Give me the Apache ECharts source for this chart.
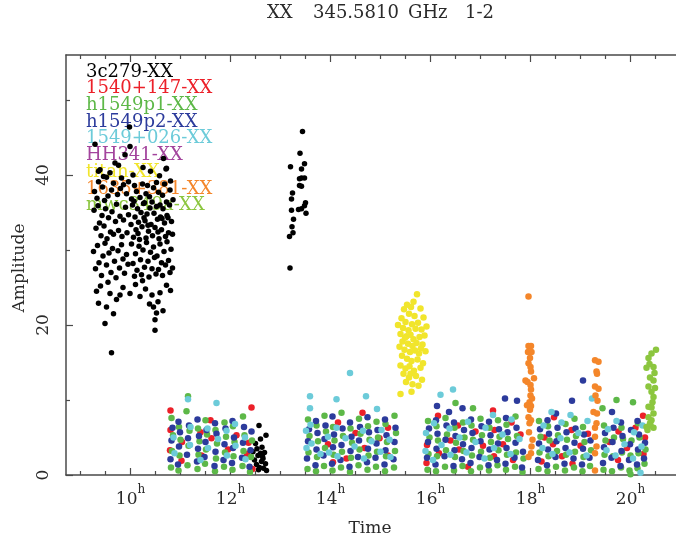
<!DOCTYPE html>
<html>
<head>
<meta charset="utf-8">
<script src="https://cdn.jsdelivr.net/npm/echarts@6/dist/echarts.min.js"></script>
<style>
  html, body { margin: 0; padding: 0; background: #fff; }
  #chart { width: 676px; height: 544px; }
</style>
</head>
<body>
<div id="chart"></div>
<script>
// ---- data: [time (h), amplitude] ----
const src3c279 = [
  // 9.3h - 10.8h block
  [9.29,44.1],[9.98,46.4],[9.99,43.8],[9.89,42.7],[9.69,41.6],[9.76,41.3],[9.39,40.7],[9.59,40.3],[9.52,39.7],[10.66,42.2],
  [10.71,40.8],[10.72,40.9],[9.36,40.5],[9.46,39.8],[10.05,40.0],[10.40,40.5],[10.25,41.0],[9.82,39.6],[10.58,39.9],
  [9.36,39.1],[9.66,38.9],[9.86,38.7],[9.96,39.1],[10.79,38.0],[10.31,37.5],[10.19,37.0],[10.72,36.4],[10.59,36.0],[9.28,37.8],
  [9.44,38.4],[9.55,37.2],[9.62,38.0],[9.74,37.4],[9.92,37.5],[10.08,38.6],[10.12,37.8],[10.24,38.8],[10.38,37.1],[10.46,38.3],
  [10.52,39.0],[10.64,37.3],[10.80,39.2],[10.85,36.7],[9.33,36.9],[9.48,36.6],[9.80,38.2],[10.02,36.8],[10.28,36.3],[10.34,38.6],
  [10.56,37.7],[10.68,38.8],
  [9.27,35.3],[9.31,32.9],[9.35,35.9],[9.38,33.6],[9.41,31.9],[9.43,34.6],[9.47,33.2],[9.50,35.5],[9.53,31.5],[9.56,34.3],
  [9.60,32.4],[9.63,35.1],[9.66,32.1],[9.70,33.8],[9.72,36.1],[9.76,32.6],[9.79,34.5],[9.83,31.8],[9.86,34.0],[9.90,35.7],
  [9.93,32.3],[9.96,34.7],
  [10.01,33.4],[10.04,36.0],[10.06,31.7],[10.09,34.4],[10.11,32.7],[10.14,35.5],[10.16,33.7],[10.18,31.4],[10.21,35.0],[10.23,33.1],
  [10.26,36.2],[10.29,33.9],[10.31,31.6],[10.33,34.8],[10.36,32.5],[10.39,35.6],[10.41,33.4],[10.44,31.9],[10.47,34.9],[10.49,33.0],
  [10.52,35.8],[10.54,34.1],[10.57,31.5],[10.60,34.4],[10.62,32.7],[10.65,35.5],[10.68,33.6],[10.70,31.8],[10.73,34.6],[10.76,32.3],
  [10.78,36.0],[10.82,33.8],[10.84,32.1],[10.07,36.5],[10.27,34.3],[10.43,36.4],[10.63,34.2],[10.15,32.2],[10.35,33.3],[10.55,32.4],
  [10.75,34.3],
  [9.26,29.8],[9.30,27.5],[9.34,30.6],[9.37,28.3],[9.42,26.6],[9.45,29.2],[9.49,30.9],[9.52,28.0],[9.57,29.6],[9.61,27.0],
  [9.64,30.2],[9.68,28.5],[9.71,26.3],[9.75,29.9],[9.78,27.6],[9.82,30.7],[9.85,28.8],[9.88,26.9],[9.92,29.4],[9.95,28.1],
  [10.02,30.8],[10.05,28.2],[10.08,26.5],[10.10,29.5],[10.13,27.3],[10.17,30.5],[10.20,28.7],[10.22,26.7],[10.25,30.0],[10.28,27.7],
  [10.32,31.0],[10.35,28.5],[10.37,26.4],[10.40,29.7],[10.43,27.5],[10.46,30.4],[10.48,29.0],[10.51,26.8],[10.53,29.2],[10.56,27.4],
  [10.59,30.8],[10.62,28.3],[10.64,26.6],[10.67,29.8],[10.70,28.0],[10.73,31.1],[10.76,28.6],[10.79,27.0],[10.81,30.1],[10.84,27.6],
  [9.36,22.9],[9.49,20.2],[9.62,16.3],[10.49,19.3],[10.49,20.7],[10.52,21.6],[10.46,22.4],[10.43,24.0],[10.59,24.3],[10.72,25.3],
  [10.19,23.8],[9.72,23.4],[9.79,24.0],[9.59,24.2],[9.52,22.4],[9.99,24.2],[9.40,25.2],[9.55,25.7],[9.85,25.0],[10.10,25.4],
  [10.30,24.8],[10.38,22.8],[10.55,23.1],[10.65,21.9],[10.80,24.6],[9.32,24.5],[9.66,21.5],[10.24,25.9],
  // 12.5h low scan
  [12.45,3.1],[12.48,2.0],[12.50,4.2],[12.52,1.4],[12.53,3.5],[12.55,2.6],[12.57,6.6],[12.58,1.0],[12.60,2.9],[12.60,4.8],
  [12.62,1.8],[12.63,3.7],[12.65,2.2],[12.66,0.9],[12.68,3.0],[12.70,1.5],[12.71,5.3],[12.72,0.6],[12.56,0.7],[12.64,2.5],
  // 13.3h block
  [13.44,45.8],[13.39,42.9],[13.20,41.1],[13.48,41.5],[13.42,40.8],[13.42,39.6],[13.48,39.6],[13.38,39.5],[13.42,38.5],[13.38,38.6],
  [13.24,37.6],[13.22,36.8],[13.50,36.3],[13.48,35.9],[13.42,35.5],[13.36,35.4],[13.22,35.3],[13.51,34.9],[13.26,34.1],[13.23,33.1],
  [13.25,32.3],[13.18,31.8],[13.19,27.6]
];

const src1540 = [
  [10.79,3.3],[10.80,8.6],[10.80,6.0],[11.02,1.9],[11.03,4.4],[11.40,5.7],[11.42,2.6],[11.62,4.9],[11.60,7.3],[11.95,3.4],
  [12.12,5.3],[12.33,2.8],[12.36,4.3],[12.42,9.0],[12.44,0.8],
  [13.95,4.1],[14.15,7.0],[14.32,2.2],[14.50,5.6],[14.64,8.3],[14.68,3.6],[14.98,4.9],[15.15,6.3],[15.15,2.6],[14.05,1.7],
  [15.92,1.6],[15.93,4.0],[16.15,7.9],[16.17,2.9],[16.40,4.6],[16.55,6.6],[16.57,3.4],[16.75,1.1],[16.90,5.8],[17.05,3.9],
  [17.25,8.6],[17.28,6.0],[17.45,4.1],[17.62,7.0],[17.65,2.0],[17.80,5.4],[17.27,2.5],
  [18.22,1.8],[18.28,5.0],[18.45,4.1],[18.47,7.7],[18.63,2.5],[18.82,6.0],[18.84,1.5],[19.00,3.9],[19.15,5.5],
  [19.58,4.4],[19.75,2.0],[19.76,5.8],[19.93,3.6],[20.10,6.3],[20.26,2.8],[20.29,5.0],[20.25,7.9]
];

const srcH1549p1 = [
  [10.81,1.0],[10.83,3.2],[10.85,5.3],[10.82,7.6],[10.96,0.6],[10.98,2.6],[11.00,4.7],[10.97,6.4],
  [11.14,1.3],[11.16,3.9],[11.18,5.9],[11.12,8.5],[11.15,10.5],[11.34,0.8],[11.36,2.7],[11.38,4.5],[11.35,6.2],
  [11.49,1.5],[11.51,3.4],[11.53,5.4],[11.50,7.3],[11.69,0.5],[11.71,2.2],[11.73,4.2],[11.70,6.0],
  [11.87,1.1],[11.89,3.0],[11.91,5.1],[11.88,7.0],[12.04,0.7],[12.06,2.5],[12.08,4.4],[12.05,6.5],
  [12.24,1.2],[12.26,3.2],[12.28,5.3],[12.25,7.8],[12.39,0.4],[12.41,2.4],[12.43,4.6],
  [13.54,0.8],[13.56,3.0],[13.58,5.2],[13.55,7.4],[13.71,0.5],[13.73,2.4],[13.75,4.5],[13.72,6.6],
  [13.87,1.2],[13.89,3.6],[13.91,5.8],[13.88,7.9],[14.04,0.6],[14.06,2.7],[14.08,4.6],[14.05,6.4],
  [14.21,1.0],[14.23,3.1],[14.25,5.2],[14.22,8.3],[14.39,0.4],[14.41,2.3],[14.43,4.3],[14.40,6.2],
  [14.56,1.3],[14.58,3.4],[14.60,5.5],[14.57,7.5],[14.74,0.7],[14.76,2.6],[14.78,4.7],[14.75,6.5],
  [14.91,1.1],[14.93,3.1],[14.95,5.0],[14.92,7.1],[15.09,0.5],[15.11,2.5],[15.13,4.4],[15.10,6.8],
  [15.27,1.0],[15.29,3.2],[15.31,5.6],[15.28,7.9],
  [15.94,0.7],[15.96,2.8],[15.98,5.0],[15.95,7.2],[16.11,0.5],[16.13,2.5],[16.15,4.6],[16.12,6.5],
  [16.29,1.1],[16.31,3.3],[16.33,5.4],[16.30,7.6],[16.47,0.6],[16.49,2.4],[16.51,4.3],[16.48,6.3],[16.50,9.6],
  [16.64,1.2],[16.66,3.2],[16.68,5.0],[16.65,7.0],[16.81,0.5],[16.83,2.6],[16.85,4.7],[16.82,6.6],[16.85,8.9],
  [16.99,1.0],[17.01,3.1],[17.03,5.3],[17.00,7.5],[17.17,0.6],[17.19,2.3],[17.21,4.4],[17.18,6.3],
  [17.34,1.3],[17.36,3.3],[17.38,5.1],[17.35,7.3],[17.51,0.7],[17.53,2.7],[17.55,4.8],[17.52,6.7],
  [17.69,1.1],[17.71,3.0],[17.73,5.2],[17.70,7.8],[17.84,0.4],[17.86,2.2],
  [18.16,0.8],[18.18,3.0],[18.20,5.1],[18.17,7.2],[18.34,0.5],[18.36,2.5],[18.38,4.6],[18.35,6.5],
  [18.51,1.1],[18.53,3.2],[18.55,5.3],[18.69,0.6],[18.71,2.7],[18.73,4.7],[18.70,6.8],
  [18.87,1.0],[18.89,3.1],[18.91,5.2],[18.88,7.5],[19.04,0.5],[19.06,2.4],[19.08,4.4],[19.05,6.4],
  [19.19,1.2],[19.21,3.3],
  [19.46,0.7],[19.48,2.7],[19.50,4.6],[19.47,6.6],[19.44,8.9],[19.63,0.5],[19.65,2.5],[19.67,5.0],[19.72,10.0],
  [19.81,1.0],[19.83,3.0],[19.85,4.8],[19.82,6.3],[19.98,0.6],[20.00,2.6],[20.02,4.6],[20.05,9.7],
  [20.14,0.9],[20.16,2.9],[20.18,5.0],[20.15,6.9],[20.28,1.5],[20.30,3.4],[20.00,0.1]
];

const srcH1549p2 = [
  [10.80,2.1],[10.82,4.6],[10.84,6.3],[10.95,1.4],[10.97,3.8],[10.99,5.7],[10.96,7.1],
  [11.13,2.7],[11.15,4.9],[11.17,6.6],[11.33,1.8],[11.35,3.5],[11.37,5.2],[11.34,7.4],
  [11.48,2.4],[11.50,4.4],[11.52,6.0],[11.68,1.2],[11.70,3.1],[11.72,5.5],[11.69,6.9],
  [11.86,2.0],[11.88,4.1],[11.90,6.2],[12.03,1.6],[12.05,3.6],[12.07,5.0],[12.04,7.2],
  [12.23,2.3],[12.25,4.3],[12.27,6.4],[12.38,1.1],[12.40,3.3],[12.42,5.8],
  [13.53,2.2],[13.55,4.5],[13.57,6.1],[13.70,1.3],[13.72,3.4],[13.74,5.6],[13.71,7.2],
  [13.86,2.6],[13.88,4.8],[13.90,6.6],[14.03,1.5],[14.05,3.7],[14.07,5.4],[14.04,7.8],
  [14.20,2.0],[14.22,4.0],[14.24,6.2],[14.38,1.1],[14.40,3.2],[14.42,5.1],[14.39,7.0],
  [14.55,2.4],[14.57,4.6],[14.59,6.4],[14.73,1.7],[14.75,3.5],[14.77,5.7],[14.74,7.7],
  [14.90,2.3],[14.92,4.2],[14.94,6.0],[15.08,1.4],[15.10,3.3],[15.12,5.3],[15.09,7.4],
  [15.26,2.1],[15.28,4.4],[15.30,6.3],
  [15.93,2.3],[15.95,4.4],[15.97,6.2],[16.10,1.4],[16.12,3.5],[16.14,5.5],[16.11,7.3],[16.13,9.2],
  [16.28,2.5],[16.30,4.7],[16.32,6.6],[16.37,8.4],[16.46,1.2],[16.48,3.3],[16.50,5.2],[16.47,7.0],
  [16.63,2.1],[16.65,4.1],[16.67,6.0],[16.64,8.9],[16.80,1.6],[16.82,3.6],[16.84,5.6],[16.81,7.4],
  [16.98,2.4],[17.00,4.5],[17.02,6.5],[17.16,1.3],[17.18,3.4],[17.20,5.3],[17.17,7.1],
  [17.33,2.0],[17.35,4.2],[17.37,6.1],[17.49,10.2],[17.50,1.5],[17.52,3.6],[17.54,5.7],[17.51,7.6],
  [17.68,2.3],[17.70,4.3],[17.72,6.3],[17.73,9.9],[17.83,1.0],[17.85,3.1],
  [18.15,2.0],[18.17,4.2],[18.19,6.1],[18.33,1.3],[18.35,3.4],[18.37,5.5],[18.34,7.3],
  [18.50,2.4],[18.52,4.5],[18.54,6.3],[18.51,8.2],[18.68,1.5],[18.70,3.6],[18.72,5.7],[18.83,9.9],
  [18.86,2.2],[18.88,4.3],[18.90,6.2],[19.03,1.4],[19.05,3.5],[19.07,5.4],[19.05,12.6],
  [19.18,2.3],[19.20,4.6],
  [19.45,1.6],[19.47,3.7],[19.49,5.6],[19.62,2.3],[19.64,4.4],[19.66,6.3],[19.63,8.4],
  [19.80,1.2],[19.82,3.2],[19.84,5.2],[19.81,7.0],[19.97,2.0],[19.99,4.1],[20.01,6.0],
  [20.13,1.4],[20.15,3.4],[20.17,5.4],[20.14,7.2],[20.27,2.2],[20.29,4.3]
];

const src1549 = [
  [10.86,5.0],[10.88,2.9],[11.15,10.1],[11.19,4.0],[11.20,6.4],[11.40,2.0],[11.55,3.6],[11.54,6.2],[11.72,9.6],[11.75,4.8],
  [11.93,2.6],[11.92,5.9],[12.10,3.9],[12.09,6.8],[12.30,2.1],[12.29,5.0],
  [13.52,3.6],[13.51,5.9],[13.59,8.9],[13.59,10.5],[13.62,4.2],[13.60,6.7],[13.80,2.8],[13.95,5.1],[13.97,3.0],[14.12,10.1],
  [14.12,6.3],[14.14,2.5],[14.30,4.9],[14.39,13.6],[14.48,3.8],[14.65,5.9],[14.67,2.2],[14.71,10.5],[14.82,4.5],[14.93,8.8],
  [15.00,3.1],[15.02,6.0],[15.18,4.7],[15.20,2.4],
  [15.90,3.2],[15.91,5.6],[16.05,2.0],[16.07,6.9],[16.20,10.7],[16.22,4.0],[16.40,2.7],[16.38,6.2],[16.45,11.4],[16.58,5.0],
  [16.72,3.0],[16.75,7.1],[16.90,4.4],[17.08,2.2],[17.10,6.3],[17.25,8.0],[17.27,3.6],[17.44,5.4],[17.60,2.8],[17.62,7.4],
  [17.78,4.8],
  [18.24,3.6],[18.26,6.6],[18.42,8.4],[18.44,2.8],[18.60,4.9],[18.62,7.0],[18.78,3.0],[18.80,8.0],[18.96,5.6],[19.12,2.6],
  [19.14,7.2],[19.23,10.2],
  [19.52,3.3],[19.55,6.1],[19.70,2.6],[19.72,7.2],[19.88,4.1],[20.05,2.2],[20.07,5.7],[20.22,3.8],[20.24,6.6],[20.20,0.3]
];

const srcHH341 = [];

const srcTitan = [
  [15.73,24.1],[15.53,22.7],[15.47,22.1],[15.61,22.4],[15.80,22.2],[15.57,21.5],[15.68,21.2],[15.42,20.9],[15.86,21.0],[15.50,20.4],
  [15.63,20.1],[15.75,20.3],[15.45,19.6],[15.56,19.3],[15.70,19.5],[15.82,19.4],[15.40,18.8],[15.52,18.5],[15.60,18.7],[15.66,18.1],
  [15.78,18.4],[15.88,18.6],[15.44,17.8],[15.55,17.5],[15.64,17.2],[15.72,17.6],[15.84,17.4],[15.38,17.1],[15.48,16.7],[15.59,16.4],
  [15.69,16.6],[15.77,16.2],[15.90,16.5],[15.43,15.9],[15.53,15.5],[15.62,15.2],[15.74,15.4],[15.85,14.9],[15.40,14.6],[15.50,14.2],
  [15.58,14.5],[15.67,13.9],[15.80,14.3],[15.46,13.5],[15.57,13.0],[15.71,13.2],[15.83,12.7],[15.51,12.4],[15.64,12.1],[15.76,11.9],
  [15.40,10.8],[15.62,11.1],[15.35,20.0],[15.92,19.8],[15.66,23.1],[15.49,18.3],[15.81,16.9],[15.60,13.5]
];

const src1635 = [
  [17.96,23.8],[17.96,17.2],[18.01,17.2],[17.95,16.4],[18.02,16.4],[17.99,15.6],[17.96,14.9],[18.00,14.4],[18.01,13.8],[17.90,12.6],
  [18.07,12.9],[18.00,12.0],[18.01,11.4],[18.00,10.6],[17.98,9.7],[18.01,9.2],[17.99,8.7],[17.96,7.7],[18.01,7.3],[17.98,6.9],
  [18.04,4.7],[17.96,2.4],[18.01,2.9],[17.94,12.4],[18.03,10.2],[17.97,5.7],[18.02,3.8],[17.93,9.3],
  [19.29,15.3],[19.36,15.1],[19.32,13.8],[19.33,13.5],[19.29,11.8],[19.36,11.5],[19.26,8.4],[19.33,8.2],[19.32,6.9],[19.29,6.3],
  [19.29,5.1],[19.32,3.8],[19.29,2.9],[19.29,0.6],[19.34,9.9],[19.30,10.6]
];

const srcMwc349a = [
  [20.51,16.7],[20.42,16.2],[20.36,15.6],[20.46,14.4],[20.32,14.3],[20.39,13.0],[20.46,12.6],[20.36,11.8],[20.49,11.6],[20.42,11.1],
  [20.46,10.4],[20.36,9.1],[20.42,9.0],[20.46,8.2],[20.36,7.7],[20.42,7.3],[20.39,6.9],[20.32,6.4],[20.46,6.3],[20.44,9.7],
  [20.38,14.8],[20.48,13.6],[20.40,6.6],[20.34,6.0]
];

const sourceNames = ['3c279-XX', '1540+147-XX', 'h1549p1-XX', 'h1549p2-XX', '1549+026-XX', 'HH341-XX', 'titan-XX', '1635+381-XX', 'mwc349a-XX'];
const sourceColors = ['#000000', '#ec2029', '#5db848', '#2c3b9c', '#6ccbd9', '#a3449d', '#f1e52c', '#f4862a', '#8cc63f'];
const sourceData = [src3c279, src1540, srcH1549p1, srcH1549p2, src1549, srcHH341, srcTitan, src1635, srcMwc349a];

const majorHours = [10, 12, 14, 16, 18, 20];
const minorHours = [9, 9.5, 10.5, 11, 11.5, 12.5, 13, 13.5, 14.5, 15, 15.5, 16.5, 17, 17.5, 18.5, 19, 19.5, 20.5];
const majorAmp = [0, 20, 40];
const minorAmp = [10, 30, 50];

const titleParts = ['XX', '345.5810', 'GHz', '1-2'];

const X_MIN = 8.71, X_MAX = 20.91;
const Y_MIN = 0, Y_MAX = 56;

const serif = '"DejaVu Serif", "Liberation Serif", serif';
const frameColor = '#4a4a4a';
const textColor = '#2a2a2a';

let gridBox = { left: 66, right: 0, top: 55, bottom: 69 };

function xAxisDef (gridIndex, position, ticks, len, showLine, showLabel) {
  return {
    type: 'value', gridIndex: gridIndex, position: position,
    min: X_MIN, max: X_MAX,
    axisLine: { show: showLine, lineStyle: { color: frameColor, width: 1.5 } },
    axisTick: { show: true, inside: true, length: len, customValues: ticks, lineStyle: { color: frameColor, width: 1.2 } },
    axisLabel: showLabel ? {
      customValues: ticks, margin: 9,
      formatter: function (v) { return '{n|' + v + '}{s|h}'; },
      rich: {
        n: { fontFamily: serif, fontSize: 17, color: textColor, lineHeight: 24, verticalAlign: 'bottom' },
        s: { fontFamily: serif, fontSize: 12, color: textColor, lineHeight: 12, verticalAlign: 'top' }
      }
    } : { show: false },
    splitLine: { show: false }
  };
}

let series = sourceData.map(function (d, i) {
  return {
    name: sourceNames[i],
    type: 'scatter',
    xAxisIndex: 0, yAxisIndex: 0,
    data: d,
    symbol: 'circle',
    symbolSize: i === 0 ? 5.5 : 6.5,
    itemStyle: { color: sourceColors[i], opacity: 1 },
    silent: true
  };
});

let legendTexts = sourceNames.map(function (name, i) {
  return {
    type: 'text', z: 0,
    x: 86, y: 72 + i * 16.7,
    style: { text: name, fill: sourceColors[i], font: '18px ' + serif, verticalAlign: 'middle' }
  };
});

// title words sit at fixed x offsets, like the original's wide spacing
let titleX = [267, 313, 408, 465];
let titleTexts = titleParts.map(function (t, i) {
  return {
    type: 'text', z: 0, x: titleX[i], y: 13,
    style: { text: t, fill: textColor, font: '18px ' + serif, verticalAlign: 'middle' }
  };
});

let option = {
  animation: false,
  grid: [
    Object.assign({}, gridBox),
    Object.assign({}, gridBox)
  ],
  xAxis: [
    xAxisDef(0, 'bottom', majorHours, 7, true, true),
    xAxisDef(0, 'top', majorHours, 7, true, false),
    xAxisDef(1, 'bottom', minorHours, 4, false, false),
    xAxisDef(1, 'top', minorHours, 4, false, false)
  ],
  yAxis: [
    {
      type: 'value', gridIndex: 0, position: 'left',
      min: Y_MIN, max: Y_MAX,
      axisLine: { show: true, lineStyle: { color: frameColor, width: 1.5 } },
      axisTick: { show: true, inside: true, length: 7, customValues: majorAmp, lineStyle: { color: frameColor, width: 1.2 } },
      axisLabel: { customValues: majorAmp, rotate: 90, margin: 14, fontFamily: serif, fontSize: 17, color: textColor },
      splitLine: { show: false }
    },
    {
      type: 'value', gridIndex: 1, position: 'left',
      min: Y_MIN, max: Y_MAX,
      axisLine: { show: false },
      axisTick: { show: true, inside: true, length: 4, customValues: minorAmp, lineStyle: { color: frameColor, width: 1.2 } },
      axisLabel: { show: false },
      splitLine: { show: false }
    }
  ],
  graphic: [
    {
      type: 'text', z: 0, x: 370, y: 529,
      style: { text: 'Time', fill: textColor, font: '17px ' + serif, align: 'center', verticalAlign: 'middle' }
    },
    {
      type: 'text', z: 0, x: 20, y: 268, rotation: Math.PI / 2,
      style: { text: 'Amplitude', fill: textColor, font: '17px ' + serif, align: 'center', verticalAlign: 'middle' }
    },
    // the plot box runs off the right edge of the picture: no right frame line
    {
      type: 'rect', z: 100, silent: true,
      shape: { x: 672, y: 58, width: 6, height: 414 },
      style: { fill: '#ffffff' }
    }
  ].concat(titleTexts, legendTexts),
  series: series
};

let myChart = echarts.init(document.getElementById('chart'));
myChart.setOption(option);
</script>
</body>
</html>
